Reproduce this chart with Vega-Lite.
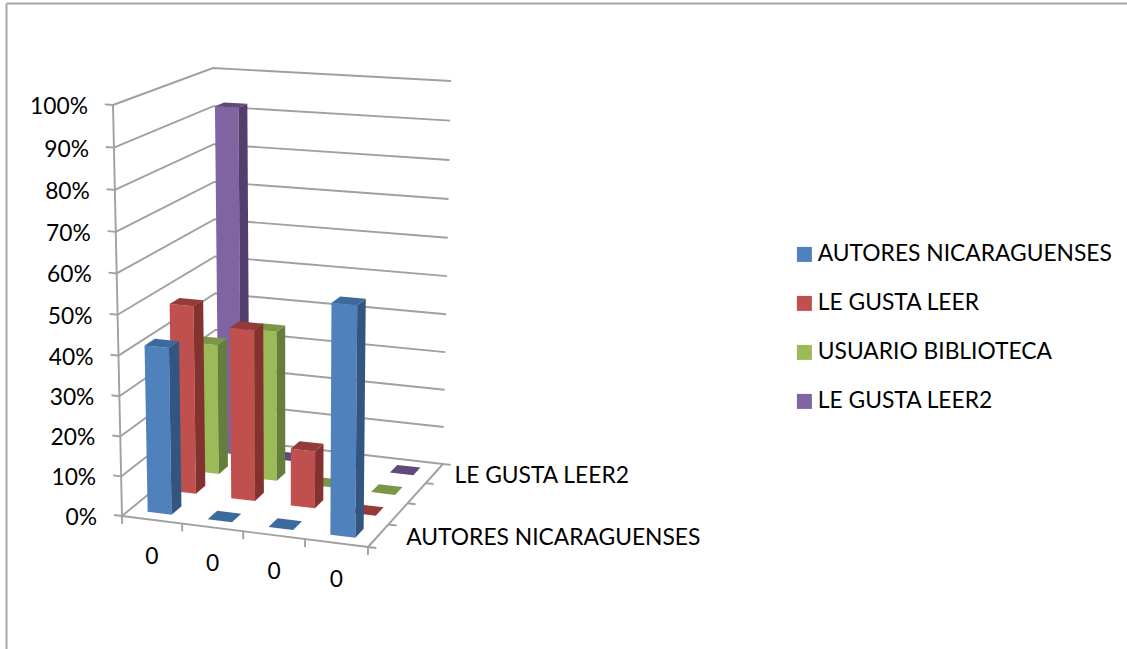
{
"$schema":"https://vega.github.io/schema/vega-lite/v6.json",
"autosize":"none",
"width":1121,"height":646,
"padding":{"left":6,"top":3,"right":0,"bottom":0},
"background":"white",
"view":{"stroke":null},
"config":{"font":"Lato"},
"data":{"values":[
{"kind":"tick","value":0},{"kind":"tick","value":10},{"kind":"tick","value":20},{"kind":"tick","value":30},{"kind":"tick","value":40},{"kind":"tick","value":50},{"kind":"tick","value":60},{"kind":"tick","value":70},{"kind":"tick","value":80},{"kind":"tick","value":90},{"kind":"tick","value":100},
{"kind":"cat","edge":0},{"kind":"cat","edge":1},{"kind":"cat","edge":2},{"kind":"cat","edge":3},{"kind":"cat","edge":4},
{"kind":"ser","edge":0},{"kind":"ser","edge":1},{"kind":"ser","edge":2},{"kind":"ser","edge":3},{"kind":"ser","edge":4},
{"kind":"catlabel","category":0,"label":"0"},{"kind":"catlabel","category":1,"label":"0"},{"kind":"catlabel","category":2,"label":"0"},{"kind":"catlabel","category":3,"label":"0"},
{"kind":"serlabel","seriesIndex":0,"label":"AUTORES NICARAGUENSES"},{"kind":"serlabel","seriesIndex":3,"label":"LE GUSTA LEER2"},
{"kind":"bar","category":0,"seriesIndex":3,"series":"LE GUSTA LEER2","value":92},
{"kind":"bar","category":1,"seriesIndex":3,"series":"LE GUSTA LEER2","value":0},
{"kind":"bar","category":2,"seriesIndex":3,"series":"LE GUSTA LEER2","value":0},
{"kind":"bar","category":3,"seriesIndex":3,"series":"LE GUSTA LEER2","value":0},
{"kind":"bar","category":0,"seriesIndex":2,"series":"USUARIO BIBLIOTECA","value":34},
{"kind":"bar","category":1,"seriesIndex":2,"series":"USUARIO BIBLIOTECA","value":39},
{"kind":"bar","category":2,"seriesIndex":2,"series":"USUARIO BIBLIOTECA","value":0},
{"kind":"bar","category":3,"seriesIndex":2,"series":"USUARIO BIBLIOTECA","value":0},
{"kind":"bar","category":0,"seriesIndex":1,"series":"LE GUSTA LEER","value":48},
{"kind":"bar","category":1,"seriesIndex":1,"series":"LE GUSTA LEER","value":43.5},
{"kind":"bar","category":2,"seriesIndex":1,"series":"LE GUSTA LEER","value":14.5},
{"kind":"bar","category":3,"seriesIndex":1,"series":"LE GUSTA LEER","value":0},
{"kind":"bar","category":0,"seriesIndex":0,"series":"AUTORES NICARAGUENSES","value":41.7},
{"kind":"bar","category":1,"seriesIndex":0,"series":"AUTORES NICARAGUENSES","value":0},
{"kind":"bar","category":2,"seriesIndex":0,"series":"AUTORES NICARAGUENSES","value":0},
{"kind":"bar","category":3,"seriesIndex":0,"series":"AUTORES NICARAGUENSES","value":56.5}
]},
"transform":[
{"calculate":"(datum.category+0.3)/4","as":"a"},
{"calculate":"(datum.category+0.7)/4","as":"b"},
{"calculate":"(datum.seriesIndex+0.3)/4","as":"c"},
{"calculate":"(datum.seriesIndex+0.7)/4","as":"d"},
{"calculate":"datum.value/100","as":"e"},
{"calculate":"datum.kind=='bar'?[{id:'f',i:0,u:datum.a,v:datum.c,h:0},{id:'f',i:1,u:datum.b,v:datum.c,h:0},{id:'f',i:2,u:datum.b,v:datum.c,h:datum.e},{id:'f',i:3,u:datum.a,v:datum.c,h:datum.e},{id:'s',i:0,u:datum.b,v:datum.c,h:0},{id:'s',i:1,u:datum.b,v:datum.d,h:0},{id:'s',i:2,u:datum.b,v:datum.d,h:datum.e},{id:'s',i:3,u:datum.b,v:datum.c,h:datum.e},{id:'t',i:0,u:datum.a,v:datum.c,h:datum.e},{id:'t',i:1,u:datum.b,v:datum.c,h:datum.e},{id:'t',i:2,u:datum.b,v:datum.d,h:datum.e},{id:'t',i:3,u:datum.a,v:datum.d,h:datum.e}]:datum.kind=='tick'?(datum.value==0?[{id:'g',i:0,u:0,v:0,h:0},{id:'g',i:1,u:0,v:1,h:0},{id:'g',i:2,u:1,v:1,h:0},{id:'m',i:0,u:0,v:0,h:0},{id:'m',i:1,u:-0.033,v:0,h:0},{id:'a',i:0,u:0,v:0,h:0},{id:'a',i:1,u:0,v:0,h:1}]:[{id:'g',i:0,u:0,v:0,h:datum.e},{id:'g',i:1,u:0,v:1,h:datum.e},{id:'g',i:2,u:1,v:1,h:datum.e},{id:'m',i:0,u:0,v:0,h:datum.e},{id:'m',i:1,u:-0.033,v:0,h:datum.e}]):datum.kind=='cat'?(datum.edge==0?[{id:'k',i:0,u:0,v:0,h:0},{id:'k',i:1,u:0,v:0,h:-0.02},{id:'b',i:0,u:0,v:0,h:0},{id:'b',i:1,u:1,v:0,h:0}]:[{id:'k',i:0,u:datum.edge/4,v:0,h:0},{id:'k',i:1,u:datum.edge/4,v:0,h:-0.02}]):datum.kind=='ser'?(datum.edge==0?[{id:'k',i:0,u:1,v:0,h:0},{id:'k',i:1,u:1.033,v:0,h:0},{id:'r',i:0,u:1,v:0,h:0},{id:'r',i:1,u:1,v:1,h:0}]:[{id:'k',i:0,u:1,v:datum.edge/4,h:0},{id:'k',i:1,u:1.033,v:datum.edge/4,h:0}]):datum.kind=='catlabel'?[{id:'l',i:0,u:(datum.category+0.5)/4,v:0,h:0}]:[{id:'l',i:0,u:1,v:(datum.seriesIndex+0.5)/4,h:0}]","as":"pts"},
{"flatten":["pts"]},
{"calculate":"datum.pts.u","as":"u"},
{"calculate":"datum.pts.v","as":"v"},
{"calculate":"datum.pts.h","as":"h"},
{"calculate":"datum.pts.i","as":"vertex"},
{"calculate":"datum.kind+'|'+datum.category+'|'+datum.seriesIndex+'|'+datum.value+'|'+datum.edge+'|'+datum.pts.id","as":"shape"},
{"calculate":"datum.series+(datum.pts.id=='f'?'':datum.pts.id=='s'?' side':' top')","as":"face"},
{"calculate":"1-0.03*datum.u+0.11*datum.v-0.04*datum.h","as":"w"},
{"calculate":"((1-datum.h)*((1-datum.v)*((1-datum.u)*122+datum.u*356.96)+datum.v*((1-datum.u)*240.87+datum.u*478.44))+datum.h*((1-datum.v)*((1-datum.u)*108.48+datum.u*345.96)+datum.v*((1-datum.u)*227.91+datum.u*469.04)))/datum.w","as":"px"},
{"calculate":"((1-datum.h)*((1-datum.v)*((1-datum.u)*516+datum.u*530.59)+datum.v*((1-datum.u)*486.18+datum.u*501.12))+datum.h*((1-datum.v)*((1-datum.u)*100.8+datum.u*115.32)+datum.v*((1-datum.u)*72.76+datum.u*84.24)))/datum.w","as":"py"}
],
"encoding":{
"x":{"field":"px","type":"quantitative","scale":{"domain":[6,1127],"nice":false,"zero":false},"axis":{"orient":"top","title":null,"labels":false,"ticks":false,"grid":false,"domainColor":"#a6a6a6","domainWidth":2}},
"y":{"field":"py","type":"quantitative","scale":{"domain":[649,3],"nice":false,"zero":false},"axis":{"orient":"left","title":null,"labels":false,"ticks":false,"grid":false,"domainColor":"#a6a6a6","domainWidth":2}}
},
"layer":[
{"transform":[{"filter":"datum.kind=='tick'||datum.kind=='cat'||datum.kind=='ser'"}],
 "mark":{"type":"line","stroke":"#a0a0a0","strokeWidth":1.9,"clip":false},
 "encoding":{"detail":{"field":"shape"},"order":{"field":"vertex"}}},
{"transform":[{"filter":"datum.kind=='bar'"}],
 "mark":{"type":"line","filled":true,"strokeWidth":0,"opacity":1},
 "encoding":{"detail":{"field":"shape"},"order":{"field":"vertex"},
  "color":{"field":"face","type":"nominal",
   "scale":{"domain":["AUTORES NICARAGUENSES","LE GUSTA LEER","USUARIO BIBLIOTECA","LE GUSTA LEER2","AUTORES NICARAGUENSES side","LE GUSTA LEER side","USUARIO BIBLIOTECA side","LE GUSTA LEER2 side","AUTORES NICARAGUENSES top","LE GUSTA LEER top","USUARIO BIBLIOTECA top","LE GUSTA LEER2 top"],
   "range":["#4f81bd","#c0504d","#9bbb59","#8064a2","#32567f","#843230","#667e3b","#533f6d","#3d6a9c","#943a38","#7b9646","#5f4a7e"]},
   "legend":{"orient":"none","legendX":787,"legendY":240,"values":["AUTORES NICARAGUENSES","LE GUSTA LEER","USUARIO BIBLIOTECA","LE GUSTA LEER2"],"title":null,"symbolType":"square","symbolSize":225,"symbolStrokeWidth":0,"symbolOpacity":1,"labelFont":"Lato","labelFontSize":22.8,"labelColor":"#000","labelOffset":2,"rowPadding":25,"padding":0,"labelLimit":400}}}},
{"transform":[{"filter":"datum.kind=='tick'"},{"filter":"datum.pts.id=='m'&&datum.vertex==0"},{"calculate":"datum.value+'%'","as":"txt"}],
 "mark":{"type":"text","align":"right","baseline":"middle","dx":-25,"dy":2,"fontSize":22.8,"font":"Lato","color":"#000"},
 "encoding":{"text":{"field":"txt"}}},
{"transform":[{"filter":"datum.kind=='catlabel'"}],
 "mark":{"type":"text","align":"center","baseline":"middle","dy":37,"fontSize":22.8,"font":"Lato","color":"#000"},
 "encoding":{"text":{"field":"label"}}},
{"transform":[{"filter":"datum.kind=='serlabel'&&datum.seriesIndex==0"}],
 "mark":{"type":"text","align":"left","baseline":"middle","dx":28,"dy":2,"fontSize":22.8,"font":"Lato","color":"#000"},
 "encoding":{"text":{"field":"label"}}},
{"transform":[{"filter":"datum.kind=='serlabel'&&datum.seriesIndex==3"}],
 "mark":{"type":"text","align":"left","baseline":"middle","dx":20,"dy":3,"fontSize":22.8,"font":"Lato","color":"#000"},
 "encoding":{"text":{"field":"label"}}}
]
}
